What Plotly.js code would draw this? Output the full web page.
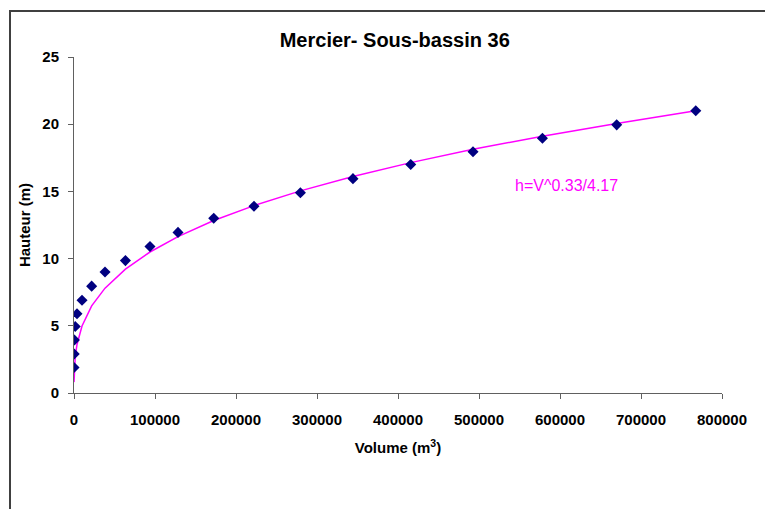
<!DOCTYPE html>
<html>
<head>
<meta charset="utf-8">
<script src="https://cdn.plot.ly/plotly-3.0.1.min.js"></script>
<style>
  html, body { margin: 0; padding: 0; background: #fff; }
  #wrap { position: relative; width: 765px; height: 509px; overflow: hidden; }
  #chart { width: 765px; height: 509px; }
  #frame { position: absolute; left: 9px; top: 10px; width: 800px; height: 600px;
           border-left: 2px solid #404040; border-top: 2px solid #404040; pointer-events: none; }
</style>
</head>
<body>
<div id="wrap">
  <div id="chart"></div>
  <div id="frame"></div>
</div>
<script>
// Observed volumes (m3) and heights (m)
const volume = [40, 300, 500, 1500, 3700, 9900, 21800, 38300, 63500, 93800,
                128400, 172500, 222200, 279500, 344400, 415700, 492600, 578300, 670000, 767600];
const hauteur = [1.9, 2.9, 3.95, 4.95, 5.9, 6.9, 7.95, 9.0, 9.85, 10.9,
                 11.95, 13.0, 13.9, 14.9, 15.95, 17.0, 17.95, 18.95, 19.95, 21.0];
// Fitted curve heights as drawn (h = V^0.33/4.17), read at each volume
const fitHauteur = [0.81, 1.58, 1.86, 2.68, 3.61, 4.99, 6.48, 7.80, 9.22, 10.49,
                    11.64, 12.83, 13.94, 15.04, 16.11, 17.14, 18.13, 19.11, 20.06, 21.0];
const xTicks = [0, 100000, 200000, 300000, 400000, 500000, 600000, 700000, 800000];
const yTicks = [0, 5, 10, 15, 20, 25];
const equationLabel = "h=V^0.33/4.17";

const FONT = "Liberation Sans, Arial, sans-serif";

const traces = [
  {
    x: volume, y: fitHauteur, type: "scatter", mode: "lines",
    line: { color: "#FF00FF", width: 1.5 }, hoverinfo: "skip", showlegend: false
  },
  {
    x: volume, y: hauteur, type: "scatter", mode: "markers",
    marker: { symbol: "diamond", size: 8.5, color: "#000080" }, showlegend: false
  }
];

const layout = {
  width: 765, height: 509,
  paper_bgcolor: "#ffffff", plot_bgcolor: "#ffffff",
  margin: { l: 74, r: 43, t: 57, b: 116 },
  font: { family: FONT, color: "#000000" },
  title: {
    text: "<b>Mercier- Sous-bassin 36</b>",
    font: { family: FONT, size: 20, color: "#000000" },
    x: 0.516, xref: "container", xanchor: "center",
    y: 0.922, yref: "container", yanchor: "middle"
  },
  xaxis: {
    range: [0, 800000], tickvals: xTicks, tickformat: "d",
    showgrid: false, zeroline: false,
    showline: true, linecolor: "#606060", linewidth: 1,
    ticks: "outside", ticklen: 5, tickcolor: "#606060",
    tickfont: { family: FONT, size: 15, color: "#000000", weight: "bold" },
    ticklabelstandoff: 8,
    title: { text: "<b>Volume (m<sup>3</sup>)</b>", font: { family: FONT, size: 15, color: "#000000" }, standoff: 15 },
    automargin: false, fixedrange: true
  },
  yaxis: {
    range: [0, 25], tickvals: yTicks,
    showgrid: false, zeroline: false,
    showline: true, linecolor: "#606060", linewidth: 1,
    ticks: "outside", ticklen: 5, tickcolor: "#606060",
    tickfont: { family: FONT, size: 15, color: "#000000", weight: "bold" },
    ticklabelstandoff: 6,
    title: { text: "<b>Hauteur (m)</b>", font: { family: FONT, size: 15, color: "#000000" }, standoff: 8 },
    automargin: false, fixedrange: true
  },
  annotations: [
    {
      x: 541600, y: 15.45, xref: "x", yref: "y",
      text: equationLabel, showarrow: false, xanchor: "left", yanchor: "middle",
      font: { family: FONT, size: 16, color: "#FF00FF" }
    }
  ]
};

Plotly.newPlot("chart", traces, layout, { displayModeBar: false, staticPlot: true });
</script>
</body>
</html>
